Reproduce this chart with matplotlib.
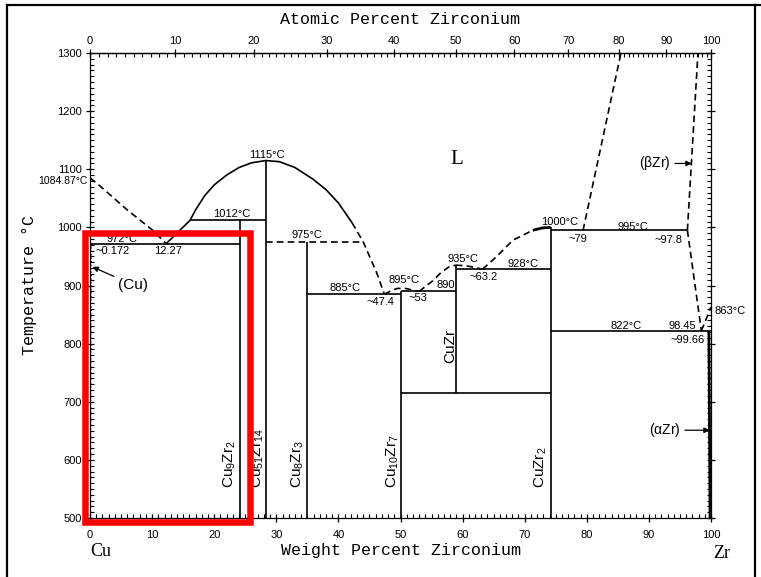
import numpy as np
import matplotlib.pyplot as plt
from matplotlib.patches import Rectangle
from matplotlib.lines import Line2D

plt.rcParams['font.family'] = ['Liberation Sans', 'DejaVu Sans']
plt.rcParams['mathtext.default'] = 'regular'

W, H = 761, 577

# intermetallic compounds (wt% Zr), vertical lines
cmp_names = [r"Cu$_9$Zr$_2$", r"Cu$_{51}$Zr$_{14}$", r"Cu$_8$Zr$_3$",
             r"Cu$_{10}$Zr$_7$", "CuZr", r"CuZr$_2$"]
cmp_wt = [24.2, 28.3, 35.0, 50.1, 58.9, 74.2]
cmp_top = [1012, 1115, 975, 890, 935, 1000]
cmp_bot = [500, 500, 500, 500, 715, 500]
cmp_lab_wt = [22.5, 27.0, 33.4, 48.8, 58.0, 72.6]
cmp_lab_T = [593, 603, 593, 598, 796, 588]

# invariant (horizontal) lines
iso_x0 = [0.172, 16.1, 28.3, 35.0, 50.1, 58.9, 50.1, 74.2, 74.2]
iso_x1 = [24.2, 28.3, 44.0, 50.1, 58.9, 74.2, 74.2, 96.2, 100.0]
iso_T = [972, 1012, 975, 885, 890, 928, 715, 995, 822]
iso_dash = [False, False, True, False, False, False, False, False, False]

# liquidus / boundaries
liq_cu_wt = [0, 1.1, 6.0, 10.1, 12.27]
liq_cu_T = [1084.87, 1076, 1030, 995, 972]
liq_a_wt = [12.27, 16.1, 17.0, 18.5, 20.0, 22.0, 24.0, 26.0, 28.3,
            30.5, 33.0, 35.9, 38.0, 40.0, 42.2]
liq_a_T = [972, 1012, 1030, 1055, 1073, 1090, 1103, 1111, 1115,
           1113, 1103, 1083, 1065, 1042, 1008]
liq_b_wt = [42.2, 44.0, 46.2, 47.4]
liq_b_T = [1008, 975, 921, 885]
liq_c_wt = [47.4, 48.5, 49.5, 50.8, 52.0, 53.0]
liq_c_T = [885, 891, 895, 895, 892, 890]
liq_d_wt = [53.0, 55.2, 56.5, 57.8, 58.9]
liq_d_T = [890, 908, 922, 932, 935]
liq_e_wt = [58.9, 60.5, 62.0, 63.2]
liq_e_T = [935, 934, 931, 928]
liq_f_wt = [63.2, 65.5, 68.1, 71.3]
liq_f_T = [928, 950, 978, 995]
liq_g_wt = [71.3, 72.8, 74.2]
liq_g_T = [995, 999, 1000]
zr_liq_wt = [79.4, 85.5]
zr_liq_T = [995, 1300]
bzr_sol_wt = [96.2, 97.9]
bzr_sol_T = [995, 1300]
bzr_solv_wt = [96.2, 98.45]
bzr_solv_T = [995, 822]
transus_wt = [98.45, 100.0]
transus_T = [822, 863]
azr_wt = [99.66, 99.85]
azr_T = [822, 500]
cu_solv_wt = [0.172, 0.1, 0.05]
cu_solv_T = [972, 750, 500]

# text labels
lab_txt = ["1115°C", "1012°C", "972°C", "~0.172", "12.27", "975°C", "885°C",
           "~47.4", "895°C", "~53", "890", "935°C", "~63.2", "928°C", "1000°C",
           "~79", "995°C", "~97.8", "822°C", "98.45", "~99.66"]
lab_wt = [28.5, 22.9, 5.2, 3.7, 12.5, 35.0, 41.0, 46.7, 50.6, 52.8, 57.3, 60.0,
          63.4, 69.8, 75.7, 78.6, 87.5, 93.1, 86.3, 95.3, 96.3]
lab_T = [1124, 1023, 980, 959, 959, 987, 896, 872, 909, 878, 901, 946, 915,
         937, 1009, 980, 1000, 978, 830, 830, 806]

wt_ticks = list(range(0, 101, 10))
T_ticks = list(range(500, 1301, 100))
at_ticks = list(range(0, 101, 10))

M_CU, M_ZR = 63.546, 91.224


def wt2at(w):
    w = np.clip(np.asarray(w, dtype=float), 0, 100)
    a = w / M_ZR
    b = (100 - w) / M_CU
    return 100 * a / np.maximum(a + b, 1e-12)


def at2wt(x):
    x = np.clip(np.asarray(x, dtype=float), 0, 100)
    a = x * M_ZR
    b = (100 - x) * M_CU
    return 100 * a / np.maximum(a + b, 1e-12)


fig = plt.figure(figsize=(W / 100, H / 100), dpi=100)
ax = fig.add_axes([90 / W, 1 - 518 / H, (711 - 90) / W, (518 - 53) / H])
ax.set_xlim(0, 100)
ax.set_ylim(500, 1300)

lw = 1.2
dash = (0, (4, 2.5))
k = 'black'


def solid(x, y, **kw):
    ax.plot(x, y, color=k, lw=kw.pop('lw', lw), solid_capstyle='butt',
            solid_joinstyle='round', **kw)


def dashed(x, y, **kw):
    ax.plot(x, y, color=k, lw=kw.pop('lw', lw), linestyle=dash, **kw)


for w, t0, t1 in zip(cmp_wt, cmp_bot, cmp_top):
    solid([w, w], [t0, t1])
for x0, x1, t, d in zip(iso_x0, iso_x1, iso_T, iso_dash):
    if d:
        dashed([x0, x1], [t, t])
    else:
        solid([x0, x1], [t, t])

dashed(liq_cu_wt, liq_cu_T)
solid(liq_a_wt, liq_a_T)
dashed(liq_b_wt, liq_b_T)
dashed(liq_c_wt, liq_c_T)
dashed(liq_d_wt, liq_d_T)
dashed(liq_e_wt, liq_e_T)
dashed(liq_f_wt, liq_f_T)
solid(liq_g_wt, liq_g_T, lw=2)
dashed(zr_liq_wt, zr_liq_T)
dashed(bzr_sol_wt, bzr_sol_T)
dashed(bzr_solv_wt, bzr_solv_T)
dashed(transus_wt, transus_T)
solid(azr_wt, azr_T, lw=2)
ax.plot(cu_solv_wt, cu_solv_T, color=k, lw=1, linestyle=(0, (1, 1.5)))

for s, x, y in zip(lab_txt, lab_wt, lab_T):
    ax.text(x, y, s, ha='center', va='center', fontsize=8)
ax.text(-0.4, 1079, "1084.87°C", ha='right', va='center', fontsize=7.5)
ax.text(100.6, 856, "863°C", ha='left', va='center', fontsize=8, clip_on=False)

for s, x, y in zip(cmp_names, cmp_lab_wt, cmp_lab_T):
    ax.text(x, y, s, rotation=90, ha='center', va='center', fontsize=11)

ax.text(59.1, 1116, "L", fontsize=15, family='Liberation Serif',
        ha='center', va='center')

arr = dict(arrowstyle='-|>', color=k, lw=0.9, mutation_scale=8,
           shrinkA=1, shrinkB=0)
ax.annotate("(Cu)", xy=(0.4, 932), xytext=(6.9, 901), fontsize=11,
            ha='center', va='center', arrowprops=arr)
ax.annotate(r"($\beta$Zr)", xy=(96.9, 1110), xytext=(91.0, 1110), fontsize=10,
            ha='center', va='center', arrowprops=arr)
ax.annotate(r"($\alpha$Zr)", xy=(99.8, 651), xytext=(92.6, 651), fontsize=10,
            ha='center', va='center', arrowprops=arr)

# ticks
ax.set_xticks(wt_ticks)
ax.set_xticks(np.arange(0, 101, 1), minor=True)
ax.set_yticks(T_ticks)
ax.set_yticks(np.arange(500, 1301, 10), minor=True)
ax.tick_params(which='major', direction='inout', length=6, width=0.9,
               labelsize=8, right=True, top=False, pad=3)
ax.tick_params(which='minor', direction='in', length=3, width=0.8,
               right=True, top=False)
ax.tick_params(axis='x', pad=6)
for sp in ax.spines.values():
    sp.set_linewidth(0.9)

sec = ax.secondary_xaxis('top', functions=(wt2at, at2wt))
sec.set_xticks(at_ticks)
sec.set_xticks(np.arange(0, 101, 1), minor=True)
sec.tick_params(which='major', direction='inout', length=6, width=0.9,
                labelsize=8, pad=2)
sec.tick_params(which='minor', direction='in', length=3, width=0.8)
sec.spines['top'].set_linewidth(0.9)

mono = 'Liberation Mono'
fig.text(400 / W, 1 - 20 / H, "Atomic Percent Zirconium", family=mono,
         fontsize=12, ha='center', va='center')
fig.text(401 / W, 1 - 551 / H, "Weight Percent Zirconium", family=mono,
         fontsize=12, ha='center', va='center')
fig.text(30 / W, 1 - 285 / H, "Temperature °C", family=mono, fontsize=12,
         rotation=90, ha='center', va='center')
fig.text(101 / W, 1 - 552 / H, "Cu", family='Liberation Serif', fontsize=13,
         ha='center', va='center')
fig.text(722 / W, 1 - 554 / H, "Zr", family='Liberation Serif', fontsize=13,
         ha='center', va='center')

# page border
for xs, ys in [([7, 7], [5, 577]), ([7, 761], [5, 5]), ([755, 755], [5, 577])]:
    fig.add_artist(Line2D([x / W for x in xs], [1 - y / H for y in ys],
                          color=k, lw=1.6, transform=fig.transFigure))

# red highlight box
x0, x1, y0, y1 = 85, 249.5, 232.5, 522
fig.add_artist(Rectangle((x0 / W, 1 - y1 / H), (x1 - x0) / W, (y1 - y0) / H,
                         transform=fig.transFigure, fill=False,
                         edgecolor='#ff0000', lw=4.7))

fig.savefig("out.png", dpi=100)
